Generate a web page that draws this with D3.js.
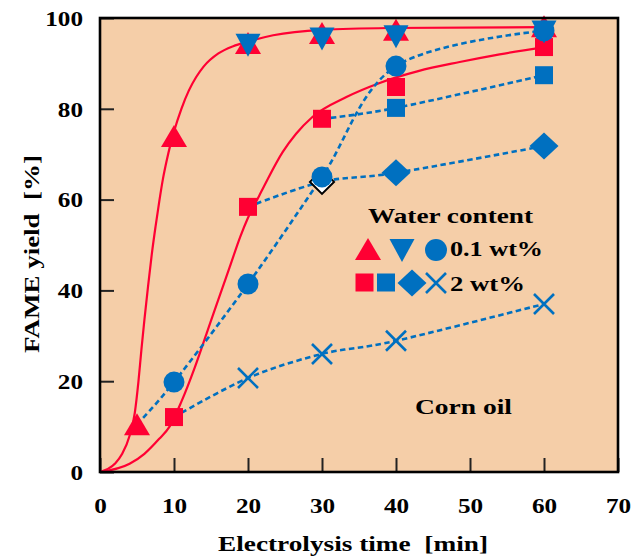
<!DOCTYPE html>
<html>
<head>
<meta charset="utf-8">
<script src="https://cdn.jsdelivr.net/npm/d3@7"></script>
<style>
  body { margin: 0; background: #fff; }
  svg text { font-family: "Liberation Serif", "Times New Roman", serif; font-weight: bold; fill: #000; }
</style>
</head>
<body>
<div id="chart"></div>
<script>
// Dades llegides del gràfic (temps [min], rendiment FAME [%])
const xTicks = [0, 10, 20, 30, 40, 50, 60, 70];
const yTicks = [0, 20, 40, 60, 80, 100];

// 0.1 wt%
const redTriangles = [[5, 10.5], [10, 74], [20, 94.5], [30, 96.7], [40, 97.4], [60, 98.2]];
const blueDownTriangles = [[20, 94.1], [30, 95.5], [40, 96], [60, 97]];
const blueCircles = [[10, 19.8], [20, 41.4], [30, 65], [40, 89.4], [60, 97.2]];
const blueCirclesStart = [5, 10.5];

// 2 wt%
const redSquares = [[10, 12.1], [20, 58.4], [30, 77.8], [40, 84.8], [60, 93.6]];
const blueSquares = [[40, 80.2], [60, 87.4]];
const blueSquaresStart = [30, 77.8];
const blueDiamonds = [[40, 65.9], [60, 71.8]];
const blueDiamondsOpen = [[30, 63.9]];
const blueDiamondsStart = [20, 58.4];
const blueCrosses = [[20, 20.7], [30, 26], [40, 28.9], [60, 37]];
const blueCrossesStart = [10, 12.1];

// corbes ajustades (vermelles)
const fitFast = [[0, 0], [2, 1.8], [3, 4], [4, 8], [4.7, 13], [5.2, 20], [5.6, 27], [6, 33.5], [6.5, 41], [7, 48],
  [7.5, 54], [8, 59.5], [8.5, 64.5], [9, 68.5], [9.5, 72], [10, 75], [11, 80], [12, 84], [13, 87], [14, 89.3],
  [16, 92.2], [18, 93.8], [20, 94.8], [23.4, 96.2], [30, 97.4], [39, 97.8], [60, 98]];
const fitSlow = [[0, 0], [4, 1.8], [6, 4], [8, 7.3], [9.4, 10], [11, 15.5], [12.8, 23], [14.4, 30.5], [16, 38],
  [17.5, 45], [19, 52], [20, 56], [21.5, 60.8], [22.5, 64], [24.7, 70.5], [26.5, 74.5], [28.7, 78.2], [33.3, 82.6],
  [37.8, 85.7], [43, 88.3], [48.6, 90.3], [54, 92], [60, 93.6]];

const RED = "#ff0033";
const BLUE = "#0070c0";
const BG = "#f5cea8";

const margin = { top: 18, right: 24, bottom: 87, left: 100 };
const W = 642, H = 559;
const width = W - margin.left - margin.right;
const height = H - margin.top - margin.bottom;

const svg = d3.select("#chart").append("svg")
  .attr("width", W)
  .attr("height", H);

const g = svg.append("g")
  .attr("transform", `translate(${margin.left},${margin.top})`);

// Escales
const x = d3.scaleLinear().domain([0, 70]).range([0, width]);
const y = d3.scaleLinear().domain([0, 100]).range([height, 0]);

g.append("rect")
  .attr("width", width)
  .attr("height", height)
  .attr("fill", BG);

// Eixos (marques cap a dins)
const xAxis = g.append("g")
  .attr("transform", `translate(0,${height})`)
  .call(d3.axisBottom(x).tickValues(xTicks).tickSizeInner(-14).tickSizeOuter(0).tickPadding(25));
const yAxis = g.append("g")
  .call(d3.axisLeft(y).tickValues(yTicks).tickSizeInner(-14).tickSizeOuter(0).tickPadding(17));

[xAxis, yAxis].forEach(a => {
  a.select(".domain").remove();
  a.selectAll(".tick line").attr("stroke", "#222").attr("stroke-width", 2);
  a.selectAll("text")
    .attr("font-size", 22)
    .attr("fill", "#000")
    .attr("font-family", "Liberation Serif")
    .attr("font-weight", "bold")
    .attr("lengthAdjust", "spacingAndGlyphs")
    .attr("textLength", function () { return this.textContent.length * 12.6; });
});
yAxis.selectAll("text").attr("dy", "0.33em");

// Corbes vermelles
const line = d3.line().x(d => x(d[0])).y(d => y(d[1])).curve(d3.curveMonotoneX);
[fitFast, fitSlow].forEach(pts => {
  g.append("path")
    .datum(pts)
    .attr("fill", "none")
    .attr("stroke", RED)
    .attr("stroke-width", 2.2)
    .attr("d", line);
});

// Línies blaves discontínues
const dashed = d3.line().x(d => x(d[0])).y(d => y(d[1])).curve(d3.curveCardinal.tension(0));
const dashedSeries = [
  [blueCirclesStart, ...blueCircles],
  [blueSquaresStart, ...blueSquares],
  [blueDiamondsStart, blueDiamondsOpen[0], ...blueDiamonds],
  [blueCrossesStart, ...blueCrosses]
];
dashedSeries.forEach(pts => {
  g.append("path")
    .datum(pts)
    .attr("fill", "none")
    .attr("stroke", BLUE)
    .attr("stroke-width", 2.6)
    .attr("stroke-dasharray", "5.5,3.5")
    .attr("d", dashed);
});

// Formes dels marcadors
const shapes = {
  triUp: "M0,-11L13,11L-13,11Z",
  triDown: "M0,12L12.5,-11L-12.5,-11Z",
  square: "M-9,-9H9V9H-9Z",
  diamond: "M0,-13.5L14.5,0L0,13.5L-14.5,0Z",
  diamondSmall: "M0,-12L12,0L0,12L-12,0Z",
  cross: "M-10,-10L10,10M10,-10L-10,10"
};

function drawMarkers(parent, data, shape, fill, stroke, sw) {
  parent.selectAll(null)
    .data(data)
    .enter()
    .append(shape === "circle" ? "circle" : "path")
    .each(function (d) {
      const el = d3.select(this);
      if (shape === "circle") {
        el.attr("cx", x(d[0])).attr("cy", y(d[1])).attr("r", 10.5);
      } else {
        el.attr("d", shapes[shape]).attr("transform", `translate(${x(d[0])},${y(d[1])})`);
      }
    })
    .attr("fill", fill)
    .attr("stroke", stroke || "none")
    .attr("stroke-width", sw || 0);
}

drawMarkers(g, blueDiamondsOpen, "diamondSmall", "#fff", "#000", 2);
drawMarkers(g, blueCrosses, "cross", "none", BLUE, 2.6);
drawMarkers(g, blueDiamonds, "diamond", BLUE);
drawMarkers(g, blueSquares, "square", BLUE);
drawMarkers(g, redSquares, "square", RED);
drawMarkers(g, redTriangles, "triUp", RED);
drawMarkers(g, blueCircles, "circle", BLUE);
drawMarkers(g, blueDownTriangles, "triDown", BLUE);

// Marc
g.append("rect")
  .attr("width", width)
  .attr("height", height)
  .attr("fill", "none")
  .attr("stroke", "#000")
  .attr("stroke-width", 2.6);

// Llegenda
function label(txt, px, py, len, anchor) {
  return svg.append("text")
    .attr("x", px)
    .attr("y", py)
    .attr("font-size", 22)
    .attr("text-anchor", anchor || "start")
    .attr("lengthAdjust", "spacingAndGlyphs")
    .attr("textLength", len)
    .text(txt);
}

label("Water content", 368, 223, 165);
const leg = svg.append("g");
const legendItems = [
  { shape: "triUp", fill: RED, cx: 368, cy: 249 },
  { shape: "triDown", fill: BLUE, cx: 402, cy: 250 },
  { shape: "circle", fill: BLUE, cx: 436, cy: 250 },
  { shape: "square", fill: RED, cx: 364.5, cy: 282.5 },
  { shape: "square", fill: BLUE, cx: 386, cy: 282.5 },
  { shape: "diamond", fill: BLUE, cx: 412, cy: 283 },
  { shape: "cross", fill: "none", stroke: BLUE, cx: 436, cy: 283 }
];
legendItems.forEach(d => {
  if (d.shape === "circle") {
    leg.append("circle").attr("cx", d.cx).attr("cy", d.cy).attr("r", 11).attr("fill", d.fill);
  } else {
    leg.append("path")
      .attr("d", shapes[d.shape])
      .attr("transform", `translate(${d.cx},${d.cy})`)
      .attr("fill", d.fill)
      .attr("stroke", d.stroke || "none")
      .attr("stroke-width", d.stroke ? 2.6 : 0);
  }
});
label("0.1 wt%", 450, 256, 93);
label("2 wt%", 450, 291, 75);

label("Corn oil", 415, 414, 97);

// Títols dels eixos
label("Electrolysis time\u00a0 [min]", 353, 551, 270, "middle");
label("FAME yield\u00a0 [%]", 0, 0, 198, "middle")
  .attr("transform", "translate(39,254) rotate(-90)");
</script>
</body>
</html>
